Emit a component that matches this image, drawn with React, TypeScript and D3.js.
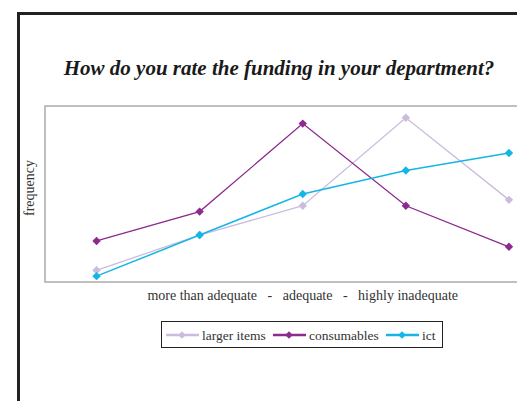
import * as d3 from 'd3'

// rating levels, left to right
const categories = ['1', '2', '3', '4', '5']
const largerItems = [2, 8, 13, 28, 14]
const consumables = [7, 12, 27, 13, 6]
const ict = [1, 8, 15, 19, 22]
const yDomain = [0, 30]

const series = [
  { name: 'larger items', values: largerItems, color: '#cbbcdd', width: 1.3 },
  { name: 'consumables', values: consumables, color: '#8d2a8d', width: 1.3 },
  { name: 'ict', values: ict, color: '#14b6e6', width: 1.5 },
]

const W = 517
const H = 401
const plot = { left: 45, top: 106, right: 560.5, bottom: 282 }
const serif = '"Liberation Serif", "DejaVu Serif", serif'

function Diamond({ x, y, color, r = 4.2 }: { x: number; y: number; color: string; r?: number }) {
  return (
    <path
      d={`M${x},${y - r}L${x + r},${y}L${x},${y + r}L${x - r},${y}Z`}
      fill={color}
    />
  )
}

export default function App() {
  const x = d3
    .scalePoint<string>()
    .domain(categories)
    .range([plot.left, plot.right])
    .padding(0.5)
  const y = d3.scaleLinear().domain(yDomain).range([plot.bottom, plot.top])

  const line = d3
    .line<number>()
    .x((_, i) => x(categories[i]) as number)
    .y((d) => y(d))

  // legend layout
  const legendItems = [
    { x: 166, textX: 202 },
    { x: 273, textX: 309 },
    { x: 386, textX: 422 },
  ]

  return (
    <svg
      width={W}
      height={H}
      style={{ position: 'absolute', left: 0, top: 0, background: '#fff' }}
    >
      {/* outer frame */}
      <path d={`M18.5,${H + 5}V13.5H${W + 5}`} fill="none" stroke="#222" strokeWidth={3} />

      <text
        x={279}
        y={75}
        textAnchor="middle"
        fontFamily={serif}
        fontWeight="bold"
        fontStyle="italic"
        fontSize={21}
        fill="#1a1a1a"
      >
        How do you rate the funding in your department?
      </text>

      {/* plot area */}
      <rect
        x={plot.left}
        y={plot.top}
        width={plot.right - plot.left}
        height={plot.bottom - plot.top}
        fill="none"
        stroke="#aaa"
        strokeWidth={1.5}
      />

      {series.map((s) => (
        <g key={s.name}>
          <path d={line(s.values) ?? ''} fill="none" stroke={s.color} strokeWidth={s.width} />
          {s.values.map((v, i) => (
            <Diamond key={i} x={x(categories[i]) as number} y={y(v)} color={s.color} />
          ))}
        </g>
      ))}

      <text
        transform={`translate(34,${(plot.top + plot.bottom) / 2 - 6}) rotate(-90)`}
        textAnchor="middle"
        fontFamily={serif}
        fontSize={14}
        fill="#333"
      >
        frequency
      </text>

      <text
        x={(plot.left + plot.right) / 2}
        y={300}
        textAnchor="middle"
        fontFamily={serif}
        fontSize={14}
        fill="#333"
        style={{ whiteSpace: 'pre' }}
      >
        {'more than adequate   -   adequate   -   highly inadequate'}
      </text>

      {/* legend */}
      <rect x={161.5} y={321.5} width={281} height={26} fill="#fff" stroke="#222" strokeWidth={1} />
      {series.map((s, i) => (
        <g key={s.name}>
          <line
            x1={legendItems[i].x}
            x2={legendItems[i].x + 33}
            y1={335}
            y2={335}
            stroke={s.color}
            strokeWidth={2.5}
          />
          <Diamond x={legendItems[i].x + 16} y={335} color={s.color} r={3.8} />
          <text
            x={legendItems[i].textX}
            y={339.5}
            fontFamily={serif}
            fontSize={13.5}
            fill="#333"
          >
            {s.name}
          </text>
        </g>
      ))}
    </svg>
  )
}
